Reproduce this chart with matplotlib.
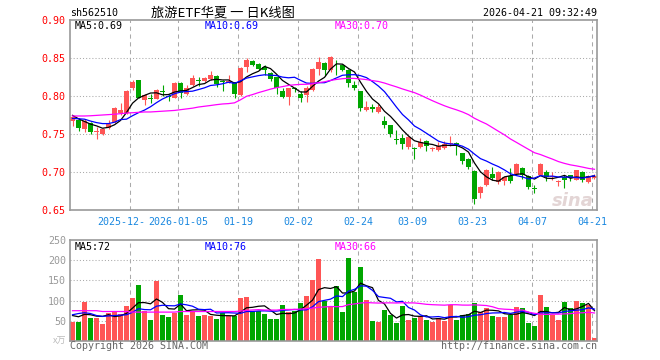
import matplotlib
matplotlib.use("Agg")
import matplotlib.pyplot as plt
import numpy as np
import pandas as pd

# daily candles, 2025-12-08 .. 2026-04-21 (index 0..87)
opens = [0.7671, 0.769, 0.757, 0.765, 0.752, 0.750, 0.758, 0.766, 0.777, 0.778,
         0.810, 0.8205, 0.7943, 0.797, 0.7965, 0.806, 0.800, 0.798, 0.8175, 0.803,
         0.8145, 0.8205, 0.8195, 0.8225, 0.8268, 0.8197, 0.8175, 0.8184, 0.801, 0.838,
         0.846, 0.8425, 0.838, 0.8307, 0.8245, 0.806, 0.799, 0.811, 0.803, 0.801,
         0.808, 0.835, 0.844, 0.834, 0.8465, 0.841, 0.834, 0.815, 0.806, 0.781,
         0.785, 0.779, 0.7667, 0.7614, 0.743, 0.7452, 0.733, 0.732, 0.733, 0.741,
         0.731, 0.7285, 0.731, 0.7365, 0.738, 0.725, 0.7167, 0.701, 0.673, 0.683,
         0.698, 0.687, 0.6877, 0.6947, 0.698, 0.7053, 0.6947, 0.678, 0.6965, 0.700,
         0.6935, 0.6868, 0.693, 0.6956, 0.690, 0.700, 0.6868, 0.692]
highs = [0.7735, 0.7705, 0.770, 0.766, 0.759, 0.758, 0.768, 0.785, 0.791, 0.808,
         0.821, 0.821, 0.802, 0.803, 0.809, 0.815, 0.803, 0.819, 0.818, 0.815,
         0.827, 0.825, 0.8245, 0.8325, 0.828, 0.8205, 0.828, 0.819, 0.838, 0.850,
         0.847, 0.843, 0.841, 0.832, 0.825, 0.810, 0.811, 0.812, 0.806, 0.813,
         0.837, 0.851, 0.845, 0.852, 0.848, 0.842, 0.835, 0.820, 0.807, 0.794,
         0.789, 0.790, 0.7733, 0.762, 0.755, 0.750, 0.747, 0.733, 0.745, 0.742,
         0.7325, 0.7395, 0.741, 0.748, 0.739, 0.7255, 0.718, 0.702, 0.681, 0.7035,
         0.7066, 0.7013, 0.694, 0.7053, 0.712, 0.7066, 0.6955, 0.6825, 0.7115, 0.702,
         0.7005, 0.689, 0.6965, 0.6965, 0.7025, 0.701, 0.6965, 0.697]
lows = [0.7605, 0.7535, 0.7526, 0.7495, 0.744, 0.749, 0.757, 0.764, 0.775, 0.776,
        0.808, 0.797, 0.788, 0.791, 0.7955, 0.800, 0.794, 0.797, 0.798, 0.801,
        0.813, 0.813, 0.818, 0.8215, 0.8118, 0.807, 0.8165, 0.7974, 0.800, 0.831,
        0.8395, 0.834, 0.828, 0.820, 0.803, 0.797, 0.788, 0.805, 0.7925, 0.792,
        0.806, 0.828, 0.8265, 0.832, 0.827, 0.833, 0.812, 0.808, 0.780, 0.780,
        0.779, 0.778, 0.7583, 0.746, 0.737, 0.7307, 0.7307, 0.717, 0.7316, 0.727,
        0.728, 0.7277, 0.730, 0.734, 0.723, 0.710, 0.704, 0.658, 0.666, 0.682,
        0.690, 0.684, 0.6825, 0.686, 0.6965, 0.6904, 0.678, 0.673, 0.696, 0.6877,
        0.690, 0.681, 0.6794, 0.6877, 0.6895, 0.6868, 0.686, 0.691]
closes = [0.7724, 0.758, 0.767, 0.7526, 0.7535, 0.757, 0.7636, 0.784, 0.781, 0.806,
          0.818, 0.798, 0.801, 0.7965, 0.8075, 0.805, 0.7995, 0.8175, 0.804, 0.811,
          0.8235, 0.8195, 0.8235, 0.8275, 0.8158, 0.8192, 0.8197, 0.8022, 0.837, 0.847,
          0.8405, 0.836, 0.834, 0.8228, 0.8105, 0.799, 0.8105, 0.8095, 0.797, 0.8105,
          0.836, 0.845, 0.834, 0.851, 0.8455, 0.834, 0.8165, 0.811, 0.784, 0.785,
          0.7835, 0.7855, 0.7614, 0.7504, 0.742, 0.7373, 0.746, 0.7298, 0.7395, 0.734,
          0.7318, 0.7338, 0.737, 0.738, 0.735, 0.7145, 0.7066, 0.665, 0.680, 0.702,
          0.6925, 0.700, 0.6934, 0.6877, 0.711, 0.6965, 0.6803, 0.6778, 0.711, 0.6934,
          0.6947, 0.6886, 0.690, 0.692, 0.702, 0.690, 0.6947, 0.6947]
volumes = [46, 48, 97.5, 58, 58, 42.5, 70, 74, 68, 87.5,
           107.5, 137.5, 75, 52.5, 147.5, 65, 60, 70, 115, 65,
           74, 62.5, 65, 62.5, 55, 69, 62, 62.5, 107.5, 110,
           75, 75, 67.5, 55, 55, 90, 71, 75, 95, 112,
           152, 202, 99, 85, 135, 72.5, 205, 121, 182.5, 102.5,
           49, 47.5, 77.5, 65, 45, 87.5, 52.5, 57.5, 62.5, 52.5,
           47.5, 57.5, 50, 89, 52.5, 65, 67.5, 95, 72.5, 82.5,
           62.5, 60, 60, 65, 85, 82.5, 45, 37.5, 115, 85,
           65, 52.5, 97.5, 82.5, 100, 95, 90, 7.5]

price_ma5_head = [0.7745, 0.770, 0.7665, 0.763]
price_ma10_head = [0.7705, 0.770, 0.7695, 0.767, 0.765, 0.7637, 0.7637, 0.7655, 0.769]
price_ma30_head = [0.7737, 0.7737, 0.7737, 0.774, 0.7745, 0.775, 0.7755, 0.776, 0.7768, 0.7775,
                   0.778, 0.7785, 0.779, 0.779, 0.7795, 0.780, 0.7805, 0.781, 0.782, 0.783,
                   0.784, 0.7855, 0.7865, 0.7875, 0.7886, 0.7895, 0.790, 0.791, 0.795]
vol_ma5_head = [63, 60, 66, 65]
vol_ma10_head = [65, 68, 70, 68, 63, 61, 62, 63, 64]
vol_ma30_head = [75, 75, 75, 75, 75, 73, 73, 73, 73, 73,
                 71.5, 71.5, 71.5, 71.5, 71.5, 71.5, 71.5, 71.5, 73, 73,
                 73, 73, 73, 73, 73, 73, 73, 73, 74]

date_index = [10, 18, 28, 38, 48, 57, 67, 77, 87]
# the first label is covered by the second one in the chart, only "2025-12-" shows
date_labels = ["2025-12-", "2026-01-05", "01-19", "02-02", "02-24",
               "03-09", "03-23", "04-07", "04-21"]
price_ma_labels = ["MA5:0.69", "MA10:0.69", "MA30:0.70"]
vol_ma_labels = ["MA5:72", "MA10:76", "MA30:66"]

RED = "#ff5555"
GREEN = "#00a600"
GRID = "#aaaaaa"
MA_COLORS = ["#000000", "#0000ff", "#ff00ff"]
MONO = "DejaVu Sans Mono"
CJK = ["Noto Sans CJK SC", "DejaVu Sans"]


def moving(values, n, head):
    out = pd.Series(values, dtype=float).rolling(n).mean().to_numpy()
    out[: n - 1] = head
    return out


o, h, l, c = (np.array(a) for a in (opens, highs, lows, closes))
vol = np.array(volumes, dtype=float)
x = np.arange(len(c))
up = c >= o
colors = np.where(up, RED, GREEN)

W, H = 660, 360
fig = plt.figure(figsize=(W / 100, H / 100), dpi=100)


def box(left, top, right, bottom):
    return [left / W, 1 - bottom / H, (right - left) / W, (bottom - top) / H]


ax = fig.add_axes(box(70, 20, 597, 210))
axv = fig.add_axes(box(70, 240, 597, 341))

for a in (ax, axv):
    a.set_xlim(-0.42, len(c) - 0.58)
    for s in a.spines.values():
        s.set_color("#999999")
        s.set_linewidth(1.2)
    a.set_xticks([])
    a.tick_params(axis="y", length=0, pad=3)
    for d in date_index:
        a.axvline(d - 0.35, color=GRID, lw=0.75, ls=(0, (4, 3.5)), zorder=0)

# price panel
ax.set_ylim(0.65, 0.90)
ax.set_yticks([0.65, 0.70, 0.75, 0.80, 0.85, 0.90])
ax.set_yticklabels(["0.65", "0.70", "0.75", "0.80", "0.85", "0.90"],
                   family=MONO, fontsize=7.2, color="#ff0000")
for v in (0.70, 0.75, 0.80, 0.85):
    ax.axhline(v, color=GRID, lw=0.75, ls=(0, (1, 2)), zorder=0)

ax.vlines(x, l, h, colors=colors, lw=0.8, zorder=2)
body_h = np.maximum(np.abs(c - o), 0.0012)
body_lo = np.where(np.abs(c - o) < 0.0012, (c + o) / 2 - 0.0006, np.minimum(o, c))
ax.bar(x, body_h, 0.8, bottom=body_lo, color=colors, linewidth=0, zorder=2)

for n, head, col in zip((5, 10, 30), (price_ma5_head, price_ma10_head, price_ma30_head), MA_COLORS):
    ax.plot(x, moving(c, n, head), color=col, lw=0.9, zorder=3)

ax.text(len(c) - 1.2, 0.662, "sina", ha="right", va="center", fontsize=13,
        fontweight="bold", style="italic", color="#e3d5d5", zorder=1)

for txt, px, col in zip(price_ma_labels, (75, 205, 335), MA_COLORS):
    fig.text(px / W, 1 - 26 / H, txt, family=MONO, fontsize=7.2, color=col, va="center")

# volume panel
axv.set_ylim(0, 250)
axv.set_yticks([50, 100, 150, 200, 250])
axv.set_yticklabels(["50", "100", "150", "200", "250"],
                    family=MONO, fontsize=7.2, color="#999999")
for v in (50, 100, 150, 200):
    axv.axhline(v, color=GRID, lw=0.75, ls=(0, (1, 2)), zorder=0)
axv.bar(x, vol, 0.83, color=colors, linewidth=0, zorder=2)
for n, head, col in zip((5, 10, 30), (vol_ma5_head, vol_ma10_head, vol_ma30_head), MA_COLORS):
    axv.plot(x, moving(vol, n, head), color=col, lw=0.9, zorder=3)

for txt, px, col in zip(vol_ma_labels, (75, 205, 335), MA_COLORS):
    fig.text(px / W, 1 - 247 / H, txt, family=MONO, fontsize=7.2, color=col, va="center")

# date labels under the price panel
xtrans = ax.get_xaxis_transform()
ax.text(date_index[0] - 1.8, -0.063, date_labels[0], transform=xtrans, ha="center", va="center",
        family=MONO, fontsize=7.2, color="#1a88e0", clip_on=False)
for d, lab in zip(date_index[1:], date_labels[1:]):
    ax.text(d - 0.35, -0.063, lab, transform=xtrans, ha="center", va="center",
            family=MONO, fontsize=7.2, color="#1a88e0", clip_on=False)

# header and footer
fig.text(70 / W, 1 - 13 / H, "sh562510", family=MONO, fontsize=7.2, va="center")
fig.text(223 / W, 1 - 13 / H, "旅游ETF华夏 一 日K线图", family=CJK, fontsize=9.5,
         ha="center", va="center")
fig.text(597 / W, 1 - 13 / H, "2026-04-21 09:32:49", family=MONO, fontsize=7.2,
         ha="right", va="center")
fig.text(66 / W, 1 - 341 / H, "x万", family=CJK, fontsize=6.5, color="#bbbbbb",
         ha="right", va="center")
fig.text(70 / W, 1 - 346 / H, "Copyright 2026 SINA.COM", family=MONO, fontsize=7.2,
         color="#666666", va="center")
fig.text(597 / W, 1 - 346 / H, "http://finance.sina.com.cn", family=MONO, fontsize=7.2,
         color="#666666", ha="right", va="center")

fig.savefig("out.png", dpi=100)
